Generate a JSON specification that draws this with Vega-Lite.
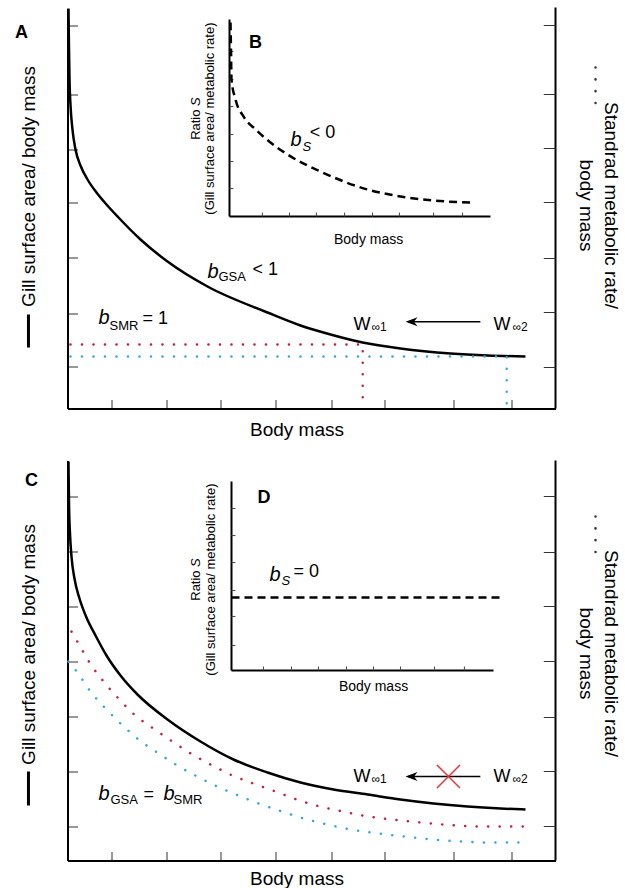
{
"$schema": "https://vega.github.io/schema/vega-lite/v6.json",
"padding": {"left": 14.5, "top": 3.5, "right": 0, "bottom": 0},
"spacing": 16,
"config": {"view": {"stroke": null}, "font": "Liberation Sans",
  "axis": {"grid": false, "labels": false, "domainColor": "black", "domainWidth": 2, "tickColor": "#333", "tickWidth": 1, "titleFontWeight": "normal", "titleFontSize": 19, "titleColor": "black"}},
"vconcat": [
{
 "width": 488, "height": 400,
 "resolve": {"scale": {"x": "independent", "y": "independent"}},
 "layer": [
  {"layer": [
   {"data": {"values": [{"x":0.2,"y":100},{"x":0.31,"y":89.75},{"x":0.41,"y":82.25},{"x":0.61,"y":76},{"x":1.02,"y":69.75},{"x":1.64,"y":64.75},{"x":2.66,"y":60.75},{"x":4.1,"y":57.25},{"x":5.94,"y":54},{"x":7.99,"y":51},{"x":10.45,"y":47.75},{"x":14.96,"y":42.25},{"x":20.49,"y":36.75},{"x":28.69,"y":30.5},{"x":40.98,"y":24},{"x":47.75,"y":20.75},{"x":53.9,"y":18.5},{"x":60.45,"y":16.5},{"x":68.24,"y":15},{"x":78.48,"y":13.75},{"x":86.07,"y":13.25},{"x":93.85,"y":13}]},
    "mark": {"type": "line", "color": "black", "strokeWidth": 2.5, "interpolate": "monotone"},
    "encoding": {
     "x": {"field": "x", "type": "quantitative", "scale": {"domain": [0,100], "nice": false, "zero": false},
       "axis": {"orient": "bottom", "values": [9,20.3,31.4,42.6,54.1,65,79.1,91], "tickSize": -9, "title": "Body mass", "titlePadding": 11, "titleX": 229}},
     "y": {"field": "y", "type": "quantitative", "scale": {"domain": [0,100], "nice": false, "zero": false},
       "axis": {"orient": "left", "values": [95.75,78.5,64.75,51.5,37.75,23.75,10.5], "tickSize": -10, "title": "Gill surface area/ body mass", "titlePadding": 29, "titleY": 177.5}}}},
   {"data": {"values": [{"x":0.6,"y":16,"o":1},{"x":60.5,"y":16,"o":2},{"x":60.5,"y":0,"o":3}]},
    "mark": {"type": "line", "color": "#c81e3c", "strokeWidth": 2.5, "strokeDash": [0.1, 11.4], "strokeCap": "round"},
    "encoding": {"x": {"field": "x", "type": "quantitative"}, "y": {"field": "y", "type": "quantitative"}, "order": {"field": "o"}}},
   {"data": {"values": [{"x":0.6,"y":13,"o":1},{"x":90,"y":13,"o":2},{"x":90,"y":0,"o":3}]},
    "mark": {"type": "line", "color": "#33a9dc", "strokeWidth": 2.5, "strokeDash": [0.1, 11.4], "strokeCap": "round"},
    "encoding": {"x": {"field": "x", "type": "quantitative"}, "y": {"field": "y", "type": "quantitative"}, "order": {"field": "o"}}},
   {"data": {"values": [{}]}, "mark": {"type": "rule", "color": "black", "strokeWidth": 2},
    "encoding": {"x": {"datum": 100}, "y": {"datum": 0}, "y2": {"datum": 100.25}}},
   {"data": {"values": [{"y":95.75},{"y":78.5},{"y":65},{"y":51.5},{"y":37.5},{"y":24},{"y":10.25}]},
    "mark": {"type": "rule", "color": "#333", "strokeWidth": 1},
    "encoding": {"x": {"datum": 97.6}, "x2": {"datum": 100}, "y": {"field": "y", "type": "quantitative"}}},
   {"data": {"values": [{}]}, "mark": {"type": "rule", "color": "black", "strokeWidth": 3},
    "encoding": {"x": {"datum": -8}, "y": {"datum": 23.5}, "y2": {"datum": 15.25}}},
   {"data": {"values": [{}]}, "mark": {"type": "text", "text": ["Standrad metabolic rate/", "body mass"], "angle": 90, "fontSize": 19, "lineHeight": 25, "align": "center", "baseline": "middle", "color": "black"},
    "encoding": {"x": {"datum": 111.3}, "y": {"datum": 50.75}}},
   {"data": {"values": [{}]}, "mark": {"type": "rule", "color": "#333", "strokeWidth": 2.5, "strokeDash": [0.1, 11.7], "strokeCap": "round"},
    "encoding": {"x": {"datum": 108.2}, "y": {"datum": 85.25}, "y2": {"datum": 76.25}}},
   {"data": {"values": [{}]}, "mark": {"type": "text", "text": "A", "fontSize": 18, "fontWeight": "bold", "align": "center", "baseline": "middle", "color": "black"},
    "encoding": {"x": {"datum": -9.43}, "y": {"datum": 94}}},
   {"data": {"values": [{}]}, "mark": {"type": "text", "text": "b", "fontSize": 20, "fontStyle": "italic", "align": "left", "baseline": "alphabetic", "color": "black"},
    "encoding": {"x": {"datum": 28.69}, "y": {"datum": 32.75}}},
   {"data": {"values": [{}]}, "mark": {"type": "text", "text": "GSA", "fontSize": 13, "align": "left", "baseline": "alphabetic", "color": "black"},
    "encoding": {"x": {"datum": 30.94}, "y": {"datum": 32}}},
   {"data": {"values": [{}]}, "mark": {"type": "text", "text": "< 1", "fontSize": 18, "align": "left", "baseline": "alphabetic", "color": "black"},
    "encoding": {"x": {"datum": 37.9}, "y": {"datum": 33.5}}},
   {"data": {"values": [{}]}, "mark": {"type": "text", "text": "b", "fontSize": 20, "fontStyle": "italic", "align": "left", "baseline": "alphabetic", "color": "black"},
    "encoding": {"x": {"datum": 6.35}, "y": {"datum": 21.25}}},
   {"data": {"values": [{}]}, "mark": {"type": "text", "text": "SMR", "fontSize": 13, "align": "left", "baseline": "alphabetic", "color": "black"},
    "encoding": {"x": {"datum": 8.6}, "y": {"datum": 19.75}}},
   {"data": {"values": [{}]}, "mark": {"type": "text", "text": "= 1", "fontSize": 18, "align": "left", "baseline": "alphabetic", "color": "black"},
    "encoding": {"x": {"datum": 15.37}, "y": {"datum": 21.25}}},
   {"data": {"values": [{}]}, "mark": {"type": "text", "text": "W", "fontSize": 18, "align": "left", "baseline": "alphabetic", "color": "black"},
    "encoding": {"x": {"datum": 58.6}, "y": {"datum": 19.75}}},
   {"data": {"values": [{}]}, "mark": {"type": "text", "text": "∞1", "fontSize": 12, "align": "left", "baseline": "alphabetic", "color": "black"},
    "encoding": {"x": {"datum": 62.3}, "y": {"datum": 19.5}}},
   {"data": {"values": [{}]}, "mark": {"type": "rule", "color": "black", "strokeWidth": 1.5},
    "encoding": {"x": {"datum": 69.8}, "x2": {"datum": 84.6}, "y": {"datum": 21.7}}},
   {"data": {"values": [{}]}, "mark": {"type": "point", "shape": "M-1,0L1,-0.75L0.4,0L1,0.75Z", "filled": true, "color": "black", "size": 144, "opacity": 1},
    "encoding": {"x": {"datum": 70.5}, "y": {"datum": 21.7}}},
   {"data": {"values": [{}]}, "mark": {"type": "text", "text": "W", "fontSize": 18, "align": "left", "baseline": "alphabetic", "color": "black"},
    "encoding": {"x": {"datum": 87.3}, "y": {"datum": 19.75}}},
   {"data": {"values": [{}]}, "mark": {"type": "text", "text": "∞2", "fontSize": 12, "align": "left", "baseline": "alphabetic", "color": "black"},
    "encoding": {"x": {"datum": 91.2}, "y": {"datum": 19.5}}}
  ]},
  {"layer": [
   {"data": {"values": [{}]}, "mark": {"type": "rule", "color": "black", "strokeWidth": 2},
    "encoding": {"x": {"datum": 0, "scale": {"domain": [0,100], "range": [162,423], "nice": false, "zero": false}, "axis": null},
                 "y": {"datum": 0, "scale": {"domain": [0,100], "range": [208,11], "nice": false, "zero": false}, "axis": null},
                 "y2": {"datum": 100}}},
   {"data": {"values": [{}]}, "mark": {"type": "rule", "color": "black", "strokeWidth": 2},
    "encoding": {"x": {"datum": 0, "axis": null}, "x2": {"datum": 100}, "y": {"datum": 0, "axis": null}}},
   {"data": {"values": [{"x":12.6},{"x":23},{"x":33.3},{"x":44.1},{"x":54.8},{"x":65.1},{"x":78.2},{"x":89.3}]},
    "mark": {"type": "rule", "color": "#444", "strokeWidth": 1},
    "encoding": {"x": {"field": "x", "type": "quantitative", "axis": null}, "y": {"datum": 0, "axis": null}, "y2": {"datum": 2}}},
   {"data": {"values": [{"y":83.8},{"y":69.5},{"y":55.8},{"y":41.6},{"y":27.9},{"y":14.2}]},
    "mark": {"type": "rule", "color": "#444", "strokeWidth": 1},
    "encoding": {"y": {"field": "y", "type": "quantitative", "axis": null}, "x": {"datum": 0, "axis": null}, "x2": {"datum": 1.5}}},
   {"data": {"values": [{"x":0.38,"y":98.5},{"x":0.57,"y":84.8},{"x":0.77,"y":69.5},{"x":2.3,"y":59.4},{"x":5.36,"y":50.8},{"x":9.96,"y":44.2},{"x":15.7,"y":37.6},{"x":23.4,"y":30.5},{"x":34.9,"y":22.8},{"x":52.9,"y":13.7},{"x":65.5,"y":10.2},{"x":78.2,"y":8.1},{"x":92.3,"y":7.1}]},
    "mark": {"type": "line", "color": "black", "strokeWidth": 2.5, "strokeDash": [8, 5], "interpolate": "monotone"},
    "encoding": {"x": {"field": "x", "type": "quantitative", "axis": null}, "y": {"field": "y", "type": "quantitative", "axis": null}}},
   {"data": {"values": [{}]}, "mark": {"type": "text", "text": "B", "fontSize": 18, "fontWeight": "bold", "align": "center", "baseline": "middle", "color": "black"},
    "encoding": {"x": {"datum": 9.96, "axis": null}, "y": {"datum": 88.1, "axis": null}}},
   {"data": {"values": [{}]}, "mark": {"type": "text", "text": "b", "fontSize": 20, "fontStyle": "italic", "align": "left", "baseline": "alphabetic", "color": "black"},
    "encoding": {"x": {"datum": 23.4, "axis": null}, "y": {"datum": 36.0, "axis": null}}},
   {"data": {"values": [{}]}, "mark": {"type": "text", "text": "S", "fontSize": 13, "fontStyle": "italic", "align": "left", "baseline": "alphabetic", "color": "black"},
    "encoding": {"x": {"datum": 28.0, "axis": null}, "y": {"datum": 33.5, "axis": null}}},
   {"data": {"values": [{}]}, "mark": {"type": "text", "text": "< 0", "fontSize": 18, "align": "left", "baseline": "alphabetic", "color": "black"},
    "encoding": {"x": {"datum": 30.7, "axis": null}, "y": {"datum": 39.6, "axis": null}}},
   {"data": {"values": [{}]}, "mark": {"type": "text", "text": "(Gill surface area/ metabolic rate)", "fontSize": 13, "angle": -90, "align": "center", "baseline": "middle", "color": "black"},
    "encoding": {"x": {"datum": -7.3, "axis": null}, "y": {"datum": 49.7, "axis": null}}},
   {"data": {"values": [{}]}, "mark": {"type": "text", "text": "Ratio", "fontSize": 13, "angle": -90, "align": "left", "baseline": "middle", "color": "black"},
    "encoding": {"x": {"datum": -13.0, "axis": null}, "y": {"datum": 38.9, "axis": null}}},
   {"data": {"values": [{}]}, "mark": {"type": "text", "text": "S", "fontSize": 13, "fontStyle": "italic", "angle": -90, "align": "left", "baseline": "middle", "color": "black"},
    "encoding": {"x": {"datum": -13.0, "axis": null}, "y": {"datum": 56.1, "axis": null}}},
   {"data": {"values": [{}]}, "mark": {"type": "text", "text": "Body mass", "fontSize": 14, "align": "center", "baseline": "middle", "color": "black"},
    "encoding": {"x": {"datum": 53.3, "axis": null}, "y": {"datum": -11.7, "axis": null}}}
  ]}
 ]
},
{
 "width": 488, "height": 400,
 "resolve": {"scale": {"x": "independent", "y": "independent"}},
 "layer": [
  {"layer": [
   {"data": {"values": [{"x":0.2,"y":99.75},{"x":0.31,"y":89.25},{"x":0.51,"y":81.75},{"x":0.82,"y":76},{"x":1.43,"y":70.5},{"x":2.46,"y":65.5},{"x":3.89,"y":60.75},{"x":5.74,"y":56.25},{"x":7.99,"y":51.25},{"x":10.86,"y":46.25},{"x":14.34,"y":41.5},{"x":20.49,"y":35.25},{"x":27.25,"y":29.75},{"x":34.02,"y":25.25},{"x":40.98,"y":22},{"x":47.75,"y":19.5},{"x":54.51,"y":17.75},{"x":61.48,"y":16.5},{"x":68.24,"y":15.25},{"x":75,"y":14.25},{"x":81.97,"y":13.5},{"x":88.73,"y":13},{"x":93.85,"y":12.75}]},
    "mark": {"type": "line", "color": "black", "strokeWidth": 2.5, "interpolate": "monotone"},
    "encoding": {
     "x": {"field": "x", "type": "quantitative", "scale": {"domain": [0,100], "nice": false, "zero": false},
       "axis": {"orient": "bottom", "values": [9,20.3,31.4,42.6,54.1,65,79.1,91], "tickSize": -9, "title": "Body mass", "titlePadding": 8, "titleX": 229}},
     "y": {"field": "y", "type": "quantitative", "scale": {"domain": [0,100], "nice": false, "zero": false},
       "axis": {"orient": "left", "values": [91,77.25,63.5,49.75,36,22.25,8.5], "tickSize": -10, "title": "Gill surface area/ body mass", "titlePadding": 29, "titleY": 183.5}}}},
   {"data": {"values": [{"x":0.82,"y":57.25},{"x":2.25,"y":54.25},{"x":4.5,"y":49.5},{"x":7.4,"y":44.75},{"x":10.45,"y":40.5},{"x":13.9,"y":36.25},{"x":17.6,"y":33},{"x":21.5,"y":29.75},{"x":25.6,"y":26.5},{"x":29.7,"y":23.75},{"x":33.8,"y":21.25},{"x":38.1,"y":19.25},{"x":42.6,"y":17.25},{"x":47.1,"y":15.2},{"x":51.4,"y":13.6},{"x":55.9,"y":12.4},{"x":60.7,"y":11.2},{"x":65.4,"y":10.4},{"x":69.9,"y":9.8},{"x":74.6,"y":9.25},{"x":79.1,"y":8.8},{"x":84,"y":8.5},{"x":93.4,"y":8.5}]},
    "mark": {"type": "line", "color": "#c81e3c", "strokeWidth": 2.5, "strokeDash": [0.1, 11.4], "strokeCap": "round", "interpolate": "monotone"},
    "encoding": {"x": {"field": "x", "type": "quantitative"}, "y": {"field": "y", "type": "quantitative"}}},
   {"data": {"values": [{"x":0.2,"y":49.75},{"x":2.05,"y":47},{"x":4.7,"y":42.25},{"x":7.8,"y":38},{"x":11.1,"y":34},{"x":14.55,"y":30.25},{"x":18.4,"y":27},{"x":22.5,"y":23.75},{"x":26.6,"y":21},{"x":30.7,"y":18.5},{"x":35,"y":16.25},{"x":39.3,"y":14.2},{"x":43.85,"y":12.3},{"x":48.15,"y":10.6},{"x":52.9,"y":9.1},{"x":57.4,"y":7.9},{"x":62.1,"y":7},{"x":66.8,"y":6.3},{"x":71.3,"y":5.7},{"x":76,"y":5.1},{"x":80.9,"y":4.75},{"x":85.45,"y":4.5},{"x":92.4,"y":4.5}]},
    "mark": {"type": "line", "color": "#33a9dc", "strokeWidth": 2.5, "strokeDash": [0.1, 11.4], "strokeCap": "round", "interpolate": "monotone"},
    "encoding": {"x": {"field": "x", "type": "quantitative"}, "y": {"field": "y", "type": "quantitative"}}},
   {"data": {"values": [{}]}, "mark": {"type": "rule", "color": "black", "strokeWidth": 2},
    "encoding": {"x": {"datum": 100}, "y": {"datum": 0}, "y2": {"datum": 100}}},
   {"data": {"values": [{"y":91},{"y":77},{"y":63.5},{"y":49.75},{"y":35.75},{"y":22.25},{"y":8.5}]},
    "mark": {"type": "rule", "color": "#333", "strokeWidth": 1},
    "encoding": {"x": {"datum": 97.6}, "x2": {"datum": 100}, "y": {"field": "y", "type": "quantitative"}}},
   {"data": {"values": [{}]}, "mark": {"type": "rule", "color": "black", "strokeWidth": 3},
    "encoding": {"x": {"datum": -8}, "y": {"datum": 22.25}, "y2": {"datum": 13.75}}},
   {"data": {"values": [{}]}, "mark": {"type": "text", "text": ["Standrad metabolic rate/", "body mass"], "angle": 90, "fontSize": 19, "lineHeight": 25, "align": "center", "baseline": "middle", "color": "black"},
    "encoding": {"x": {"datum": 111.3}, "y": {"datum": 51.75}}},
   {"data": {"values": [{}]}, "mark": {"type": "rule", "color": "#333", "strokeWidth": 2.5, "strokeDash": [0.1, 11.7], "strokeCap": "round"},
    "encoding": {"x": {"datum": 108.2}, "y": {"datum": 86}, "y2": {"datum": 77}}},
   {"data": {"values": [{}]}, "mark": {"type": "text", "text": "C", "fontSize": 18, "fontWeight": "bold", "align": "center", "baseline": "middle", "color": "black"},
    "encoding": {"x": {"datum": -7.38}, "y": {"datum": 95}}},
   {"data": {"values": [{}]}, "mark": {"type": "text", "text": "b", "fontSize": 20, "fontStyle": "italic", "align": "left", "baseline": "alphabetic", "color": "black"},
    "encoding": {"x": {"datum": 6.35}, "y": {"datum": 15.25}}},
   {"data": {"values": [{}]}, "mark": {"type": "text", "text": "GSA", "fontSize": 13, "align": "left", "baseline": "alphabetic", "color": "black"},
    "encoding": {"x": {"datum": 8.8}, "y": {"datum": 14.25}}},
   {"data": {"values": [{}]}, "mark": {"type": "text", "text": "=", "fontSize": 18, "align": "left", "baseline": "alphabetic", "color": "black"},
    "encoding": {"x": {"datum": 15.57}, "y": {"datum": 15.25}}},
   {"data": {"values": [{}]}, "mark": {"type": "text", "text": "b", "fontSize": 20, "fontStyle": "italic", "align": "left", "baseline": "alphabetic", "color": "black"},
    "encoding": {"x": {"datum": 19.67}, "y": {"datum": 15.25}}},
   {"data": {"values": [{}]}, "mark": {"type": "text", "text": "SMR", "fontSize": 13, "align": "left", "baseline": "alphabetic", "color": "black"},
    "encoding": {"x": {"datum": 21.72}, "y": {"datum": 14.25}}},
   {"data": {"values": [{}]}, "mark": {"type": "text", "text": "W", "fontSize": 18, "align": "left", "baseline": "alphabetic", "color": "black"},
    "encoding": {"x": {"datum": 58.6}, "y": {"datum": 19.75}}},
   {"data": {"values": [{}]}, "mark": {"type": "text", "text": "∞1", "fontSize": 12, "align": "left", "baseline": "alphabetic", "color": "black"},
    "encoding": {"x": {"datum": 62.3}, "y": {"datum": 19.5}}},
   {"data": {"values": [{}]}, "mark": {"type": "rule", "color": "black", "strokeWidth": 1.5},
    "encoding": {"x": {"datum": 69.8}, "x2": {"datum": 84.6}, "y": {"datum": 21}}},
   {"data": {"values": [{}]}, "mark": {"type": "point", "shape": "M-1,0L1,-0.75L0.4,0L1,0.75Z", "filled": true, "color": "black", "size": 144, "opacity": 1},
    "encoding": {"x": {"datum": 70.5}, "y": {"datum": 21}}},
   {"data": {"values": [{}]}, "mark": {"type": "point", "shape": "M-1,-1L1,1M-1,1L1,-1", "filled": false, "color": "#e8353a", "strokeWidth": 1.5, "size": 529, "opacity": 1},
    "encoding": {"x": {"datum": 78.07}, "y": {"datum": 21}}},
   {"data": {"values": [{}]}, "mark": {"type": "text", "text": "W", "fontSize": 18, "align": "left", "baseline": "alphabetic", "color": "black"},
    "encoding": {"x": {"datum": 87.3}, "y": {"datum": 19.75}}},
   {"data": {"values": [{}]}, "mark": {"type": "text", "text": "∞2", "fontSize": 12, "align": "left", "baseline": "alphabetic", "color": "black"},
    "encoding": {"x": {"datum": 91.2}, "y": {"datum": 19.5}}}
  ]},
  {"layer": [
   {"data": {"values": [{}]}, "mark": {"type": "rule", "color": "black", "strokeWidth": 2},
    "encoding": {"x": {"datum": 0, "scale": {"domain": [0,100], "range": [164,426], "nice": false, "zero": false}, "axis": null},
                 "y": {"datum": 0, "scale": {"domain": [0,100], "range": [210,21], "nice": false, "zero": false}, "axis": null},
                 "y2": {"datum": 100}}},
   {"data": {"values": [{}]}, "mark": {"type": "rule", "color": "black", "strokeWidth": 2},
    "encoding": {"x": {"datum": 0, "axis": null}, "x2": {"datum": 100}, "y": {"datum": 0, "axis": null}}},
   {"data": {"values": [{"x":12.2},{"x":22.9},{"x":33.2},{"x":43.9},{"x":54.2},{"x":64.5},{"x":77.5},{"x":88.9}]},
    "mark": {"type": "rule", "color": "#444", "strokeWidth": 1},
    "encoding": {"x": {"field": "x", "type": "quantitative", "axis": null}, "y": {"datum": 0, "axis": null}, "y2": {"datum": 2.1}}},
   {"data": {"values": [{"y":85.7},{"y":71.4},{"y":57.1},{"y":42.3},{"y":28.6},{"y":13.2}]},
    "mark": {"type": "rule", "color": "#444", "strokeWidth": 1},
    "encoding": {"y": {"field": "y", "type": "quantitative", "axis": null}, "x": {"datum": 0, "axis": null}, "x2": {"datum": 1.5}}},
   {"data": {"values": [{"x":0,"y":38.6},{"x":102.7,"y":38.6}]},
    "mark": {"type": "line", "color": "black", "strokeWidth": 2.5, "strokeDash": [8, 5]},
    "encoding": {"x": {"field": "x", "type": "quantitative", "axis": null}, "y": {"field": "y", "type": "quantitative", "axis": null}}},
   {"data": {"values": [{}]}, "mark": {"type": "text", "text": "D", "fontSize": 18, "fontWeight": "bold", "align": "center", "baseline": "middle", "color": "black"},
    "encoding": {"x": {"datum": 12.4, "axis": null}, "y": {"datum": 91.3, "axis": null}}},
   {"data": {"values": [{}]}, "mark": {"type": "text", "text": "b", "fontSize": 20, "fontStyle": "italic", "align": "left", "baseline": "alphabetic", "color": "black"},
    "encoding": {"x": {"datum": 14.5, "axis": null}, "y": {"datum": 47.6, "axis": null}}},
   {"data": {"values": [{}]}, "mark": {"type": "text", "text": "S", "fontSize": 13, "fontStyle": "italic", "align": "left", "baseline": "alphabetic", "color": "black"},
    "encoding": {"x": {"datum": 19.1, "axis": null}, "y": {"datum": 45, "axis": null}}},
   {"data": {"values": [{}]}, "mark": {"type": "text", "text": "= 0", "fontSize": 18, "align": "left", "baseline": "alphabetic", "color": "black"},
    "encoding": {"x": {"datum": 23.7, "axis": null}, "y": {"datum": 49.7, "axis": null}}},
   {"data": {"values": [{}]}, "mark": {"type": "text", "text": "(Gill surface area/ metabolic rate)", "fontSize": 13, "angle": -90, "align": "center", "baseline": "middle", "color": "black"},
    "encoding": {"x": {"datum": -8.0, "axis": null}, "y": {"datum": 48.1, "axis": null}}},
   {"data": {"values": [{}]}, "mark": {"type": "text", "text": "Ratio", "fontSize": 13, "angle": -90, "align": "left", "baseline": "middle", "color": "black"},
    "encoding": {"x": {"datum": -13.7, "axis": null}, "y": {"datum": 36.9, "axis": null}}},
   {"data": {"values": [{}]}, "mark": {"type": "text", "text": "S", "fontSize": 13, "fontStyle": "italic", "angle": -90, "align": "left", "baseline": "middle", "color": "black"},
    "encoding": {"x": {"datum": -13.7, "axis": null}, "y": {"datum": 54.8, "axis": null}}},
   {"data": {"values": [{}]}, "mark": {"type": "text", "text": "Body mass", "fontSize": 14, "align": "center", "baseline": "middle", "color": "black"},
    "encoding": {"x": {"datum": 54.2, "axis": null}, "y": {"datum": -8.5, "axis": null}}}
  ]}
 ]
}
]
}
